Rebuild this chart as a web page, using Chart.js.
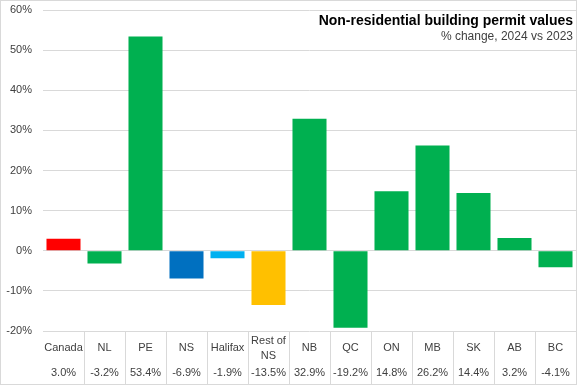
<!DOCTYPE html>
<html>
<head>
<meta charset="utf-8">
<script src="https://cdn.jsdelivr.net/npm/chart.js@4"></script>
<style>
  html, body { margin: 0; padding: 0; background: #fff; }
  #wrap { width: 577px; height: 385px; box-sizing: border-box; border: 1px solid #d9d9d9; }
  #chart { display: block; }
</style>
</head>
<body>
<div id="wrap"><canvas id="chart" width="575" height="383"></canvas></div>
<script>
// Data
const categories = ['Canada', 'NL', 'PE', 'NS', 'Halifax', ['Rest of', 'NS'], 'NB', 'QC', 'ON', 'MB', 'SK', 'AB', 'BC'];
const changes = [3.0, -3.2, 53.4, -6.9, -1.9, -13.5, 32.9, -19.2, 14.8, 26.2, 14.4, 3.2, -4.1];
const barColors = ['#ff0000', '#00b050', '#00b050', '#0070c0', '#00b0f0', '#ffc000', '#00b050',
                   '#00b050', '#00b050', '#00b050', '#00b050', '#00b050', '#00b050'];

const titleText = 'Non-residential building permit values';
const subtitleText = '% change, 2024 vs 2023';
const textColor = '#404040';
const gridColor = '#d9d9d9';

// Draws the title block and the data table under the x axis
const tablePlugin = {
    id: 'tablePlugin',
    afterDraw(chart) {
        const ctx = chart.ctx;
        const x = chart.scales.x;
        const area = chart.chartArea;
        ctx.save();
        ctx.fillStyle = textColor;
        ctx.textAlign = 'center';
        ctx.textBaseline = 'middle';
        ctx.font = '11px "Liberation Sans", Arial, sans-serif';
        categories.forEach((cat, i) => {
            const cx = x.getPixelForValue(i);
            const lines = Array.isArray(cat) ? cat : [cat];
            const lh = 15;
            const y0 = area.bottom + 17 - (lines.length - 1) * lh / 2;
            lines.forEach((l, j) => ctx.fillText(l, cx, y0 + j * lh));
            ctx.fillText(changes[i].toFixed(1) + '%', cx, area.bottom + 42);
        });

        // title
        ctx.textAlign = 'right';
        ctx.fillStyle = '#000';
        ctx.font = 'bold 14px "Liberation Sans", Arial, sans-serif';
        ctx.fillText(titleText, 572, 20);
        ctx.fillStyle = textColor;
        ctx.font = '12px "Liberation Sans", Arial, sans-serif';
        ctx.fillText(subtitleText, 572, 36);
        ctx.restore();
    }
};

new Chart(document.getElementById('chart'), {
    type: 'bar',
    data: {
        labels: categories,
        datasets: [{
            data: changes,
            backgroundColor: barColors,
            barPercentage: 0.83,
            categoryPercentage: 1.0
        }]
    },
    options: {
        responsive: false,
        animation: false,
        layout: { padding: { top: 9, right: 0, bottom: 0, left: 0 } },
        plugins: {
            legend: { display: false },
            tooltip: { enabled: false }
        },
        scales: {
            x: {
                offset: true,
                border: { display: false },
                grid: {
                    offset: true,
                    drawOnChartArea: false,
                    drawTicks: true,
                    tickLength: 53,
                    color: ctx => ctx.index === 0 ? 'rgba(0,0,0,0)' : gridColor
                },
                ticks: { display: false }
            },
            y: {
                min: -20,
                max: 60,
                border: { display: false },
                grid: { color: gridColor, drawTicks: false },
                ticks: {
                    stepSize: 10,
                    padding: 11,
                    color: textColor,
                    font: { family: '"Liberation Sans", Arial, sans-serif', size: 11 },
                    callback: v => v + '%'
                },
                afterFit: scale => {
                    scale.width = 42;
                    scale.paddingTop = 6;
                    scale.paddingBottom = 6;
                }
            }
        }
    },
    plugins: [tablePlugin]
});
</script>
</body>
</html>
